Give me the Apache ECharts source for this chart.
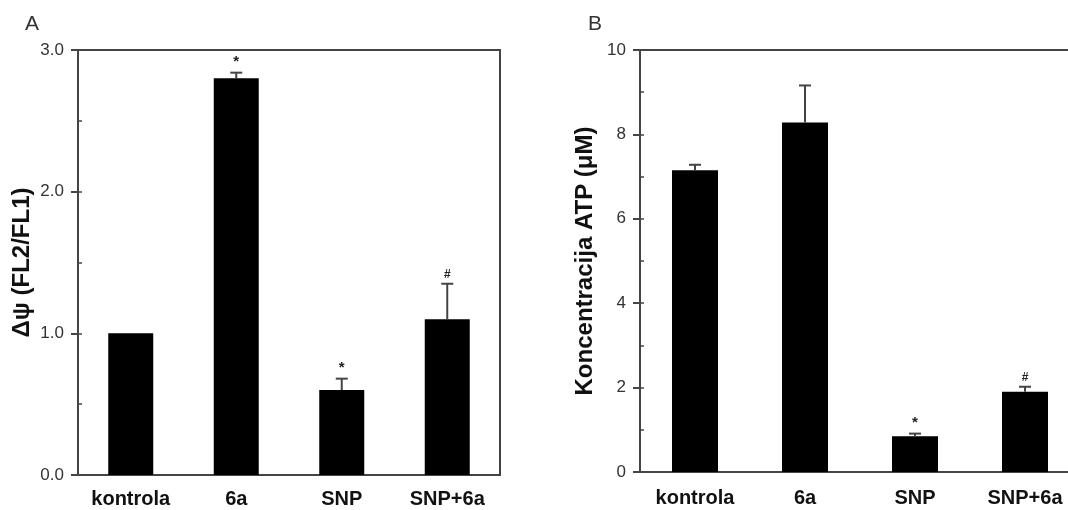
<!DOCTYPE html>
<html>
<head>
<meta charset="utf-8">
<script src="https://cdn.jsdelivr.net/npm/echarts/dist/echarts.min.js"></script>
<style>html,body{margin:0;padding:0;background:#fff;overflow:hidden;}#c{width:1100px;height:510px;}</style>
</head>
<body>
<div id="c"></div>
<script>
const categories = ['kontrola', '6a', 'SNP', 'SNP+6a'];
const valuesA = [1.0, 2.80, 0.60, 1.10];
const errorsA = [0, 0.04, 0.08, 0.25];
const marksA = ['', '*', '*', '#'];
const valuesB = [7.15, 8.28, 0.85, 1.90];
const errorsB = [0.13, 0.88, 0.06, 0.12];
const marksB = ['', '', '*', '#'];
const ticksA = ['0.0', '1.0', '2.0', '3.0'];
const ticksB = ['0', '2', '4', '6', '8', '10'];

const axisColor = '#444';
const font = 'Liberation Sans, Arial, sans-serif';

function errSeries(xi, yi, vals, errs, marks) {
  return {
    type: 'custom', xAxisIndex: xi, yAxisIndex: yi, z: 5,
    data: vals.map((v, i) => [i, v, errs[i]]),
    renderItem: function (params, api) {
      const i = api.value(0), v = api.value(1), e = api.value(2);
      const m = marks[i];
      const base = api.coord([i, v]);
      const top = api.coord([i, v + e]);
      const children = [];
      if (e > 0) {
        children.push({ type: 'line', shape: { x1: base[0], y1: base[1], x2: top[0], y2: top[1] }, style: { stroke: axisColor, lineWidth: 2 } });
        children.push({ type: 'line', shape: { x1: top[0] - 6, y1: top[1], x2: top[0] + 6, y2: top[1] }, style: { stroke: axisColor, lineWidth: 2 } });
      }
      if (m) {
        children.push({ type: 'text', style: { text: m, x: top[0], y: top[1] - 3, align: 'center', verticalAlign: 'bottom', fontSize: m === '*' ? 15 : 12, fontWeight: 'bold', fontFamily: font, fill: '#222' } });
      }
      return { type: 'group', children: children };
    }
  };
}

const chart = echarts.init(document.getElementById('c'), null, { renderer: 'canvas' });
chart.setOption({
  animation: false,
  backgroundColor: '#fff',
  title: [
    { text: 'A', left: 20, top: 9, textStyle: { fontSize: 21, fontWeight: 'normal', color: '#333', fontFamily: font } },
    { text: 'B', left: 583, top: 9, textStyle: { fontSize: 21, fontWeight: 'normal', color: '#333', fontFamily: font } }
  ],
  grid: [
    { left: 78, top: 50, width: 422, height: 425, show: true, borderColor: axisColor, borderWidth: 2, backgroundColor: 'transparent' },
    { left: 640, top: 50, width: 440, height: 422, show: true, borderColor: axisColor, borderWidth: 2, backgroundColor: 'transparent' }
  ],
  xAxis: [
    { type: 'category', gridIndex: 0, data: categories, axisTick: { show: false },
      axisLine: { lineStyle: { color: axisColor, width: 2 } },
      axisLabel: { margin: 14, fontSize: 20, fontWeight: 'bold', color: '#111', fontFamily: font } },
    { type: 'category', gridIndex: 1, data: categories, axisTick: { show: false },
      axisLine: { lineStyle: { color: axisColor, width: 2 } },
      axisLabel: { margin: 16, fontSize: 20, fontWeight: 'bold', color: '#111', fontFamily: font } }
  ],
  yAxis: [
    { type: 'value', gridIndex: 0, min: 0, max: 3, interval: 1,
      name: 'Δψ (FL2/FL1)', nameLocation: 'middle', nameGap: 44,
      nameTextStyle: { fontSize: 24, fontWeight: 'bold', color: '#111', fontFamily: font },
      axisLine: { show: true, lineStyle: { color: axisColor, width: 2 } },
      axisTick: { show: true, length: 7, lineStyle: { color: axisColor, width: 2 } },
      splitLine: { show: false },
      axisLabel: { margin: 14, fontSize: 17, color: '#333', fontFamily: font, formatter: (v) => ticksA[Math.round(v)] } },
    { type: 'value', gridIndex: 0, min: 0, max: 3, interval: 0.5, position: 'left',
      axisLine: { show: false }, axisLabel: { show: false }, splitLine: { show: false },
      axisTick: { show: true, inside: true, length: 4, lineStyle: { color: axisColor, width: 1.5 } } },
    { type: 'value', gridIndex: 1, min: 0, max: 10, interval: 2,
      name: 'Koncentracija ATP (μM)', nameLocation: 'middle', nameGap: 43,
      nameTextStyle: { fontSize: 24, fontWeight: 'bold', color: '#111', fontFamily: font },
      axisLine: { show: true, lineStyle: { color: axisColor, width: 2 } },
      axisTick: { show: true, length: 7, lineStyle: { color: axisColor, width: 2 } },
      splitLine: { show: false },
      axisLabel: { margin: 14, fontSize: 17, color: '#333', fontFamily: font, formatter: (v) => ticksB[Math.round(v / 2)] } },
    { type: 'value', gridIndex: 1, min: 0, max: 10, interval: 1, position: 'left',
      axisLine: { show: false }, axisLabel: { show: false }, splitLine: { show: false },
      axisTick: { show: true, inside: true, length: 4, lineStyle: { color: axisColor, width: 1.5 } } }
  ],
  series: [
    { type: 'bar', xAxisIndex: 0, yAxisIndex: 0, data: valuesA, barWidth: 45, itemStyle: { color: '#000' } },
    errSeries(0, 0, valuesA, errorsA, marksA),
    { type: 'bar', xAxisIndex: 1, yAxisIndex: 2, data: valuesB, barWidth: 46, itemStyle: { color: '#000' } },
    errSeries(1, 2, valuesB, errorsB, marksB)
  ]
});
</script>
</body>
</html>
